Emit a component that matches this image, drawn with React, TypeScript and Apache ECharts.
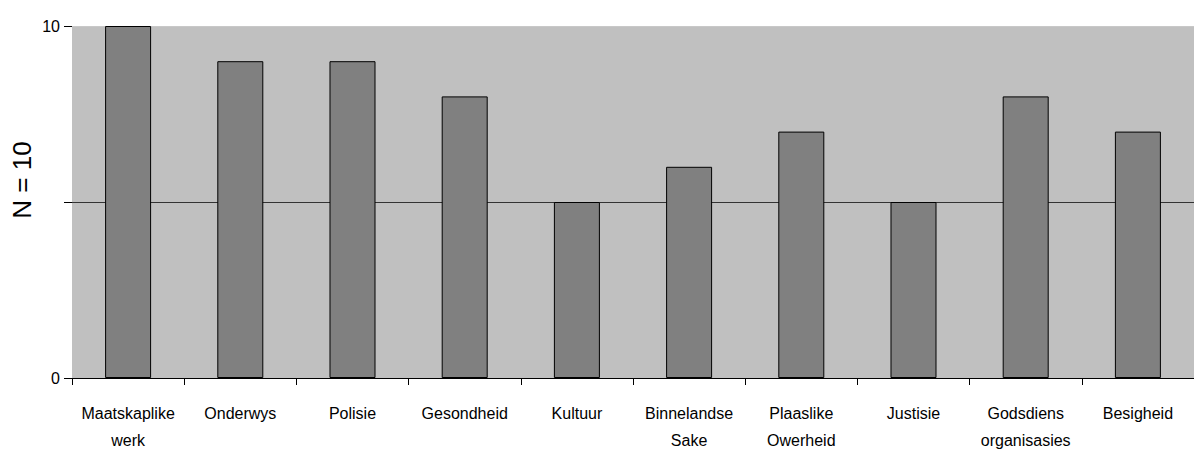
import React, { useEffect, useRef } from "react";
import * as echarts from "echarts";

const categories = [
  "Maatskaplike\nwerk",
  "Onderwys",
  "Polisie",
  "Gesondheid",
  "Kultuur",
  "Binnelandse\nSake",
  "Plaaslike\nOwerheid",
  "Justisie",
  "Godsdiens\norganisasies",
  "Besigheid",
];
const values = [10, 9, 9, 8, 5, 6, 7, 5, 8, 7];
const yTicks = [0, 5, 10];
const shownYLabels = [0, 10];
const yName = "N = 10";

const FONT = "'Liberation Sans', Arial, sans-serif";

export default function App() {
  const ref = useRef<HTMLDivElement>(null);
  useEffect(() => {
    document.body.style.margin = "0";
    if (!ref.current) return;
    const chart = echarts.init(ref.current, null, { renderer: "svg" });
    chart.setOption({
      animation: false,
      grid: {
        left: 72,
        right: 0,
        top: 26,
        bottom: 76,
        show: true,
        backgroundColor: "#C0C0C0",
        borderWidth: 0,
      },
      graphic: [
        {
          type: "text",
          x: 22,
          y: 180,
          rotation: Math.PI / 2,
          style: {
            text: yName,
            fontFamily: FONT,
            fontSize: 26,
            fill: "#000",
            align: "center",
            verticalAlign: "middle",
          },
        },
      ],
      xAxis: {
        type: "category",
        data: categories,
        boundaryGap: true,
        axisLine: { show: true, lineStyle: { color: "#000", width: 1 } },
        axisTick: { show: true, length: 7, lineStyle: { color: "#000" } },
        axisLabel: {
          fontFamily: FONT,
          fontSize: 16,
          color: "#000",
          lineHeight: 27,
          margin: 22,
          interval: 0,
        },
      },
      yAxis: {
        type: "value",
        min: yTicks[0],
        max: yTicks[yTicks.length - 1],
        interval: yTicks[1] - yTicks[0],
        axisLine: { show: false },
        axisTick: { show: true, length: 8, lineStyle: { color: "#000" } },
        axisLabel: {
          fontFamily: FONT,
          fontSize: 16,
          color: "#000",
          margin: 12,
          formatter: (v: number) => (shownYLabels.includes(v) ? String(v) : ""),
        },
        splitLine: {
          show: true,
          lineStyle: { color: ["#000", "#333", "#C8C8C8"], width: 1 },
        },
      },
      series: [
        {
          type: "bar",
          data: values,
          barWidth: "41%",
          itemStyle: { color: "#808080", borderColor: "#000", borderWidth: 1 },
        },
      ],
    });
    return () => chart.dispose();
  }, []);
  return <div ref={ref} style={{ width: 1194, height: 454 }} />;
}
